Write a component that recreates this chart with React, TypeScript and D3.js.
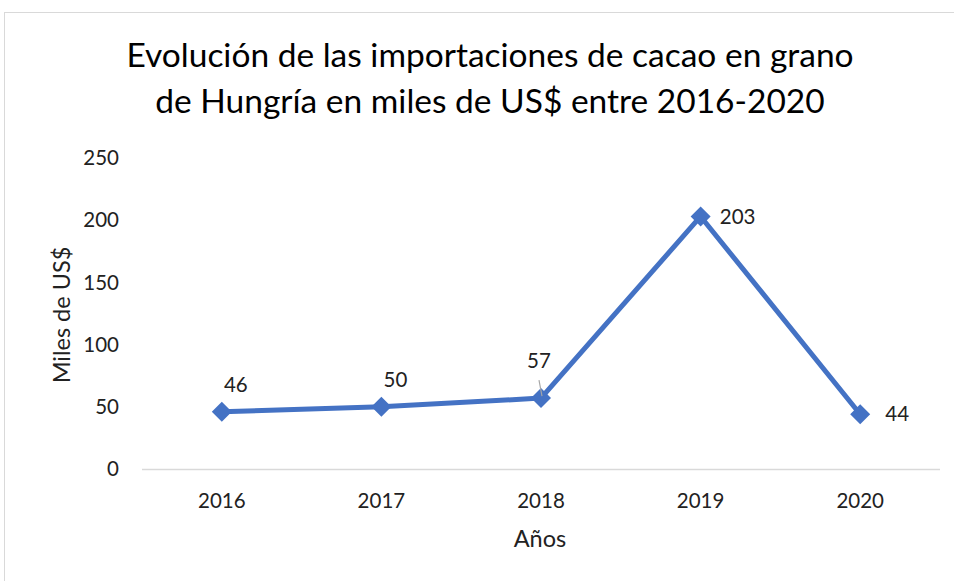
import React, { useEffect, useRef } from "react";
import * as d3 from "d3";

const years = ["2016", "2017", "2018", "2019", "2020"];
const values = [46, 50, 57, 203, 44];
const yTicks = [0, 50, 100, 150, 200, 250];
// where each data label sits relative to its point
const labelPos = ["above", "above", "aboveLeader", "right", "right"];

const titleLines = [
  "Evolución de las importaciones de cacao en grano",
  "de Hungría en miles de US$ entre 2016-2020",
];

export default function App() {
  const ref = useRef<SVGSVGElement>(null);

  useEffect(() => {
    if (!ref.current) return;
    const width = 954;
    const height = 581;
    const left = 142;
    const right = 940;
    const top = 158;
    const bottom = 469;
    const font = "Lato, 'Open Sans', sans-serif";
    const blue = "#4472C4";
    const labelSize = 20.5;

    const svg = d3.select(ref.current);
    svg.selectChildren().remove();
    svg.attr("width", width).attr("height", height);

    svg
      .append("rect")
      .attr("x", 4.5)
      .attr("y", 12.5)
      .attr("width", 980)
      .attr("height", 600)
      .attr("fill", "white")
      .attr("stroke", "#d9d9d9");

    const x = d3.scaleBand().domain(years).range([left, right]);
    const y = d3.scaleLinear().domain([0, 250]).range([bottom, top]);

    // title
    svg
      .append("g")
      .selectAll("text")
      .data(titleLines)
      .join("text")
      .attr("x", 490)
      .attr("y", (d, i) => 67 + i * 46)
      .attr("text-anchor", "middle")
      .attr("font-family", font)
      .attr("font-size", 33.5)
      .attr("fill", "#000")
      .text((d) => d);

    // y tick labels
    svg
      .append("g")
      .selectAll("text")
      .data(yTicks)
      .join("text")
      .attr("x", 119)
      .attr("y", (d) => y(d))
      .attr("dy", "0.35em")
      .attr("text-anchor", "end")
      .attr("font-family", font)
      .attr("font-size", labelSize)
      .attr("fill", "#222")
      .text((d) => d);

    // baseline
    svg
      .append("line")
      .attr("x1", left)
      .attr("x2", right)
      .attr("y1", y(0) + 0.5)
      .attr("y2", y(0) + 0.5)
      .attr("stroke", "#d9d9d9")
      .attr("stroke-width", 1.5);

    // x tick labels
    svg
      .append("g")
      .selectAll("text")
      .data(years)
      .join("text")
      .attr("x", (d) => x(d)! + x.bandwidth() / 2)
      .attr("y", 508)
      .attr("text-anchor", "middle")
      .attr("font-family", font)
      .attr("font-size", labelSize)
      .attr("fill", "#222")
      .text((d) => d);

    // axis titles
    svg
      .append("text")
      .attr("x", 540)
      .attr("y", 547)
      .attr("text-anchor", "middle")
      .attr("font-family", font)
      .attr("font-size", 23.5)
      .attr("fill", "#222")
      .text("Años");

    svg
      .append("text")
      .attr("transform", "translate(70,315) rotate(-90)")
      .attr("text-anchor", "middle")
      .attr("font-family", font)
      .attr("font-size", 23.5)
      .attr("fill", "#222")
      .text("Miles de US$");

    const px = (i: number) => x(years[i])! + x.bandwidth() / 2;
    const line = d3
      .line<number>()
      .x((d, i) => px(i))
      .y((d) => y(d));

    svg
      .append("path")
      .attr("d", line(values))
      .attr("fill", "none")
      .attr("stroke", blue)
      .attr("stroke-width", 5)
      .attr("stroke-linejoin", "round");

    // diamond markers
    svg
      .append("g")
      .selectAll("path")
      .data(values)
      .join("path")
      .attr("d", d3.symbol(d3.symbolSquare, 200)())
      .attr("transform", (d, i) => `translate(${px(i)},${y(d)}) rotate(45)`)
      .attr("fill", blue);

    // leader line for label 57
    values.forEach((v, i) => {
      if (labelPos[i] !== "aboveLeader") return;
      svg
        .append("line")
        .attr("x1", px(i) - 2)
        .attr("y1", y(v) - 18)
        .attr("x2", px(i) + 1)
        .attr("y2", y(v) - 2)
        .attr("stroke", "#a6a6a6")
        .attr("stroke-width", 1.2);
    });

    // data labels
    svg
      .append("g")
      .selectAll("text")
      .data(values)
      .join("text")
      .attr("x", (d, i) => {
        const p = labelPos[i];
        if (p === "right") return px(i) + 37;
        if (p === "aboveLeader") return px(i) - 2;
        return px(i) + 14;
      })
      .attr("y", (d, i) => {
        const p = labelPos[i];
        if (p === "right") return y(d);
        if (p === "aboveLeader") return y(d) - 37;
        return y(d) - 27;
      })
      .attr("dy", "0.35em")
      .attr("text-anchor", "middle")
      .attr("font-family", font)
      .attr("font-size", labelSize)
      .attr("fill", "#222")
      .text((d) => d);
  }, []);

  return (
    <svg
      ref={ref}
      style={{ position: "absolute", left: 0, top: 0, display: "block" }}
    />
  );
}
